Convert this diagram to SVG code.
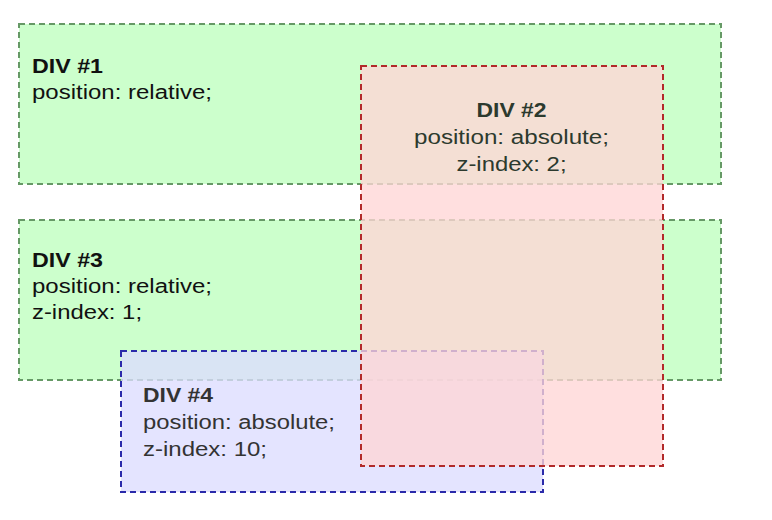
<svg xmlns="http://www.w3.org/2000/svg" width="772" height="520" viewBox="0 0 772 520">
<style>
  .box { stroke-width: 2; stroke-dasharray: 6 4; }
  .green { fill: #ccffcc; stroke: #669966; }
  .red { fill: #ffd6d6; fill-opacity: 0.78; stroke: #b22a2a; }
  .blue { fill: #dcdcff; fill-opacity: 0.78; stroke: #2a2aaa; }
  text { font-family: "Liberation Sans", Arial, sans-serif; font-size: 20px; }
  .t { fill: #111111; }
  .b { font-weight: bold; }
  .t2 { fill: #2c3a2e; }
  .t4 { fill: #333333; }
</style>
<rect width="772" height="520" fill="#ffffff"/>
<g id="div1">
  <rect class="box green" x="19" y="24" width="702" height="160"/>
  <text class="t b" x="32" y="73" textLength="71" lengthAdjust="spacingAndGlyphs">DIV #1</text>
  <text class="t" x="32" y="99" textLength="180" lengthAdjust="spacingAndGlyphs">position: relative;</text>
</g>
<g id="div3">
  <rect class="box green" x="19" y="220" width="702" height="160"/>
  <text class="t b" x="32" y="267" textLength="71" lengthAdjust="spacingAndGlyphs">DIV #3</text>
  <text class="t" x="32" y="293" textLength="180" lengthAdjust="spacingAndGlyphs">position: relative;</text>
  <text class="t" x="32" y="319" textLength="110" lengthAdjust="spacingAndGlyphs">z-index: 1;</text>
</g>
<g id="div4">
  <rect class="box blue" x="121" y="351" width="422" height="141"/>
  <text class="t4 b" x="143" y="402" textLength="70" lengthAdjust="spacingAndGlyphs">DIV #4</text>
  <text class="t4" x="143" y="429" textLength="192" lengthAdjust="spacingAndGlyphs">position: absolute;</text>
  <text class="t4" x="143" y="456" textLength="124" lengthAdjust="spacingAndGlyphs">z-index: 10;</text>
</g>
<g id="div2">
  <rect class="box red" x="361" y="66" width="302" height="400"/>
  <text class="t2 b" x="511.5" y="117" text-anchor="middle" textLength="70" lengthAdjust="spacingAndGlyphs">DIV #2</text>
  <text class="t2" x="511.5" y="144" text-anchor="middle" textLength="195" lengthAdjust="spacingAndGlyphs">position: absolute;</text>
  <text class="t2" x="511.5" y="171" text-anchor="middle" textLength="110" lengthAdjust="spacingAndGlyphs">z-index: 2;</text>
</g>
<g id="connectors"></g>
</svg>
